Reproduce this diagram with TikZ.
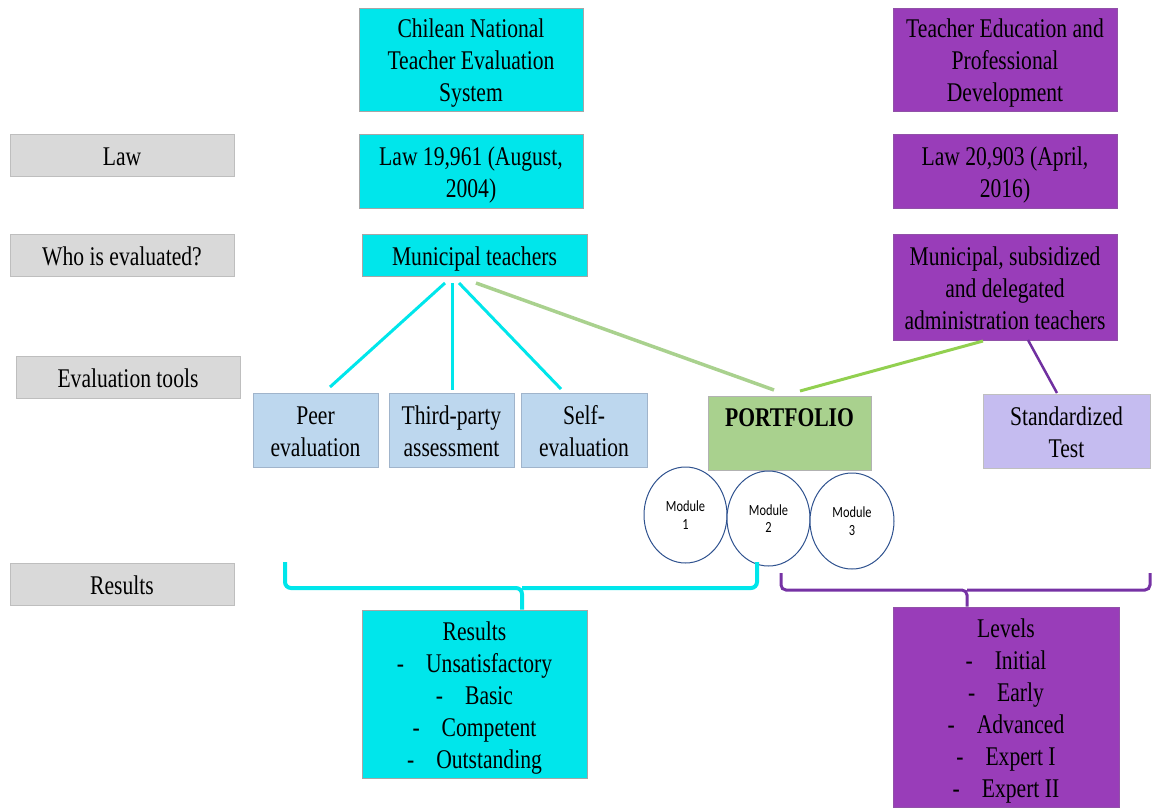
\documentclass[tikz,border=0pt]{standalone}
\usepackage{fontspec}
\setmainfont{Liberation Serif}[FakeStretch=0.8]
\newfontfamily\modfont{Carlito}[FakeStretch=0.8]
\usetikzlibrary{shapes.geometric}
\newcommand{\boxfont}{\fontsize{27}{32}\selectfont\setbox\strutbox\hbox{\vrule height26.3pt depth5.7pt width0pt}}
\newcommand{\tb}[1]{\begin{tabular}{@{}c@{}}#1\end{tabular}}
\definecolor{lgray}{RGB}{217,217,217}
\definecolor{bgray}{RGB}{190,190,190}
\definecolor{ccyan}{RGB}{0,230,235}
\definecolor{cpurp}{RGB}{153,61,185}
\definecolor{lblue}{RGB}{189,215,238}
\definecolor{bblue}{RGB}{160,180,203}
\definecolor{pgreen}{RGB}{169,209,142}
\definecolor{bgreen}{RGB}{146,208,80}
\definecolor{lav}{RGB}{197,188,240}
\definecolor{modblue}{RGB}{47,82,143}
\definecolor{dpurp}{RGB}{112,48,160}
\tikzset{
  box/.style={rectangle, inner sep=0pt, font=\boxfont, line width=0.7pt},
  graybox/.style={box, fill=lgray, draw=bgray},
  cyanbox/.style={box, fill=ccyan, draw=gray!70},
  purpbox/.style={box, fill=cpurp, draw=cpurp!70!gray},
  bluebox/.style={box, fill=lblue, draw=bblue},
  greenbox/.style={rectangle, inner sep=0pt, fill=pgreen, draw=gray!60, line width=0.7pt},
  lavbox/.style={box, fill=lav, draw=gray!50},
  modnode/.style={ellipse, draw=modblue, fill=white, line width=1pt, inner sep=0pt, align=center, font=\modfont\fontsize{15.5}{17.5}\selectfont},
  cyanline/.style={draw=ccyan, line width=3pt},
  pgline/.style={draw=pgreen, line width=3.5pt},
  bgline/.style={draw=bgreen, line width=3pt},
  purpline/.style={draw=dpurp, line width=2.5pt},
  cbrace/.style={draw=ccyan, line width=4pt, rounded corners=6pt},
  pbrace/.style={draw=dpurp!85!cpurp, line width=3pt, rounded corners=5pt},
}
\begin{document}
\begin{tikzpicture}[x=1pt,y=-1pt]
\useasboundingbox (0,0) rectangle (1154,807);
% left labels
\node[graybox, minimum width=224pt, minimum height=42pt] (lLaw) at (122,155) {\tb{Law}};
\node[graybox, minimum width=224pt, minimum height=42pt] (lWho) at (122,255) {\tb{Who is evaluated?}};
\node[graybox, minimum width=224pt, minimum height=42pt] (lTools) at (128,377) {\tb{Evaluation tools}};
\node[graybox, minimum width=224pt, minimum height=42pt] (lRes) at (122,584) {\tb{Results}};
% cyan column
\node[cyanbox, minimum width=224pt, minimum height=103pt] (chile) at (471,59.5) {\tb{Chilean National\\Teacher Evaluation\\System}};
\node[cyanbox, minimum width=224pt, minimum height=74pt] (law1) at (471,171) {\tb{Law 19,961 (August,\\2004)}};
\node[cyanbox, minimum width=225pt, minimum height=42pt] (mun) at (474.5,255) {\tb{Municipal teachers}};
% purple column
\node[purpbox, minimum width=224pt, minimum height=103pt] (tedu) at (1005,59.5) {\tb{Teacher Education and\\Professional\\Development}};
\node[purpbox, minimum width=224pt, minimum height=74pt] (law2) at (1005,171) {\tb{Law 20,903 (April,\\2016)}};
\node[purpbox, minimum width=224pt, minimum height=106pt] (mps) at (1005,287) {\tb{Municipal, subsidized\\and delegated\\administration teachers}};
% tools
\node[bluebox, minimum width=125pt, minimum height=74pt] (peer) at (315.5,430) {\tb{Peer\\evaluation}};
\node[bluebox, minimum width=125pt, minimum height=74pt] (third) at (451.5,430) {\tb{Third-party\\assessment}};
\node[bluebox, minimum width=126pt, minimum height=74pt] (self) at (584,430) {\tb{Self-\\evaluation}};
\node[greenbox, minimum width=163pt, minimum height=74pt,
  label={[anchor=north, yshift=-9pt, font=\fontsize{27}{32}\selectfont\bfseries]north:PORTFOLIO}] (port) at (789.5,433) {};
\node[lavbox, minimum width=167pt, minimum height=74pt] (std) at (1066.5,431) {\tb{Standardized\\Test}};
% modules
\node[modnode, minimum width=83pt, minimum height=96pt] (mod1) at (685.5,515) {Module\\1};
\node[modnode, minimum width=83pt, minimum height=95pt] (mod2) at (768.5,518.5) {Module\\2};
\node[modnode, minimum width=84pt, minimum height=96pt] (mod3) at (852,521) {Module\\3};
% results
\node[cyanbox, minimum width=225pt, minimum height=168pt] (res) at (474.5,694) {\tb{Results\\-\hspace{22pt}Unsatisfactory\\-\hspace{22pt}Basic\\-\hspace{22pt}Competent\\-\hspace{22pt}Outstanding}};
\node[purpbox, minimum width=226pt, minimum height=200pt] (lev) at (1006,707) {\tb{Levels\\-\hspace{22pt}Initial\\-\hspace{22pt}Early\\-\hspace{22pt}Advanced\\-\hspace{22pt}Expert I\\-\hspace{22pt}Expert II}};
% connector end points
\coordinate (m1) at (445,283);
\coordinate (m2) at (452,283);
\coordinate (m3) at (459,283);
\coordinate (m4) at (476,283);
\coordinate (p1) at (330,387);
\coordinate (p2) at (452,390);
\coordinate (p3) at (561,389);
\coordinate (pt1) at (774,390);
\coordinate (pt2) at (800,391);
\coordinate (mp1) at (983,341);
\coordinate (mp2) at (1028,340);
\coordinate (st1) at (1057,393);
\draw[cyanline] (m1) -- (p1);
\draw[cyanline] (m2) -- (p2);
\draw[cyanline] (m3) -- (p3);
\draw[pgline] (m4) -- (pt1);
\draw[bgline] (pt2) -- (mp1);
\draw[purpline] (mp2) -- (st1);
% braces
\coordinate (cbL) at (285,562);
\coordinate (cbR) at (757,562);
\coordinate (cbM) at (522,588);
\draw[cbrace] (cbL) |- (cbM) -- (cbM |- res.north);
\draw[cbrace] (cbR) |- (cbM);
\coordinate (pbL) at (781,573);
\coordinate (pbR) at (1150,573);
\coordinate (pbM) at (967,590);
\draw[pbrace] (pbL) |- (pbM) -- (pbM |- lev.north);
\draw[pbrace] (pbR) |- (pbM);
\end{tikzpicture}
\end{document}
